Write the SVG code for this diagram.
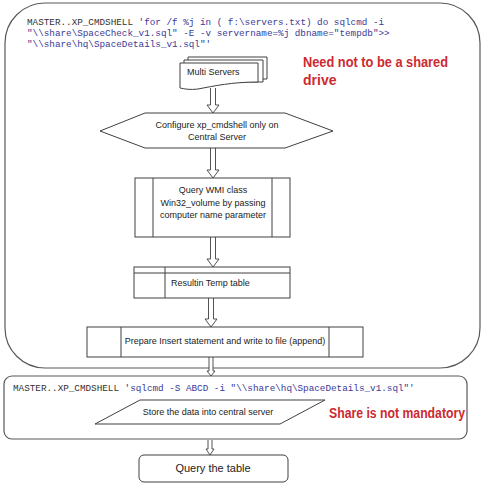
<svg xmlns="http://www.w3.org/2000/svg" width="490" height="490" viewBox="0 0 490 490">
<style>
.frame{fill:none;stroke:#595959;stroke-width:1.2}
.node{fill:#fff;stroke:#404040;stroke-width:1}
.lbl{font-family:"Liberation Sans",Arial,sans-serif;font-size:9px;fill:#222;text-anchor:middle}
.lbl.left{text-anchor:start}
.lbl.big{font-size:11px}
.code{font-family:"Liberation Mono","Courier New",monospace;font-size:9.3px;fill:#333}
.str{fill:#3a3a98}
.note{font-family:"Liberation Sans",Arial,sans-serif;font-weight:bold;font-size:14px;fill:#cc2a30}
.arr{fill:#fff;stroke:#404040;stroke-width:0.9}
</style>
<rect width="490" height="490" fill="#fff"/>
<g id="outer-frame"><rect class="frame" x="5" y="3" width="475" height="365" rx="40" ry="40"/></g>
<g id="store-frame"><rect class="frame" x="4" y="376" width="463" height="63" rx="8" ry="8"/></g>
<g id="code1">
<text class="code" x="27" y="25">MASTER..XP_CMDSHELL <tspan class="str">'for /f %j in ( f:\servers.txt) do sqlcmd -i</tspan></text>
<text class="code str" x="27" y="36">"\\share\SpaceCheck_v1.sql" -E -v servername=%j dbname="tempdb"&gt;&gt;</text>
<text class="code str" x="27" y="47">"\\share\hq\SpaceDetails_v1.sql"'</text>
</g>
<g id="code2">
<text class="code" x="13" y="391">MASTER..XP_CMDSHELL <tspan class="str">'sqlcmd -S ABCD -i "\\share\hq\SpaceDetails_v1.sql"'</tspan></text>
</g>
<g id="note1">
<text class="note" x="303" y="67" textLength="145" lengthAdjust="spacingAndGlyphs">Need not to be a shared</text>
<text class="note" x="303" y="85">drive</text>
</g>
<g id="note2">
<text class="note" x="329" y="418" textLength="136" lengthAdjust="spacingAndGlyphs">Share is not mandatory</text>
</g>
<g id="connectors">
<path class="arr" d="M210.5,88 V105 H207 L213,113 L219,105 H215.5 V88"/>
<path class="arr" d="M210.5,148 V170 H207 L213,178 L219,170 H215.5 V148"/>
<path class="arr" d="M210.5,237 V259 H207 L213,267 L219,259 H215.5 V237"/>
<path class="arr" d="M208.5,298 V319 H205 L211,327 L217,319 H213.5 V298"/>
<path class="arr" d="M209,357 V371 H207 L211,376 L215,371 H213 V357"/>
<path class="arr" d="M208,440 V449 H206 L210,455 L214,449 H212 V440"/>
</g>
<g id="multi-servers">
<path class="node" d="M188,57 H267 V79 H188 Z"/>
<path class="node" d="M184,60 H263 V82 H184 Z"/>
<path class="node" d="M180,63 H258 V82 C232,82 214,86 198,89 C190,90 185,89 180,88 Z"/>
<text class="lbl left" x="187" y="75">Multi Servers</text>
</g>
<g id="configure">
<path class="node" d="M100,131 L145,113 H285 L333,131 L285,148 H145 Z"/>
<text class="lbl" x="217" y="128">Configure xp_cmdshell only on</text>
<text class="lbl" x="217" y="140">Central Server</text>
</g>
<g id="query-wmi">
<rect class="node" x="135" y="178" width="155" height="59"/>
<line class="node" x1="153" y1="178" x2="153" y2="237"/>
<line class="node" x1="272" y1="178" x2="272" y2="237"/>
<text class="lbl" x="213" y="193">Query WMI class</text>
<text class="lbl" x="213" y="206">Win32_volume by passing</text>
<text class="lbl" x="213" y="218">computer name parameter</text>
</g>
<g id="temp-table">
<rect class="node" x="134" y="267" width="156" height="31"/>
<line class="node" x1="134" y1="273" x2="290" y2="273"/>
<line class="node" x1="165" y1="267" x2="165" y2="298"/>
<text class="lbl left" x="171" y="286">Resultin Temp table</text>
</g>
<g id="prepare">
<rect class="node" x="87" y="327" width="276" height="30"/>
<line class="node" x1="121" y1="327" x2="121" y2="357"/>
<line class="node" x1="329" y1="327" x2="329" y2="357"/>
<text class="lbl" x="225" y="344">Prepare Insert statement and write to file (append)</text>
</g>
<g id="store">
<path class="node" d="M95,424 L140,400 H325 L280,424 Z"/>
<text class="lbl" x="208" y="415">Store the data into central server</text>
</g>
<g id="query-table">
<rect class="node" x="139" y="455" width="149" height="27" rx="5" ry="5"/>
<text class="lbl big" x="213" y="472">Query the table</text>
</g>
</svg>
